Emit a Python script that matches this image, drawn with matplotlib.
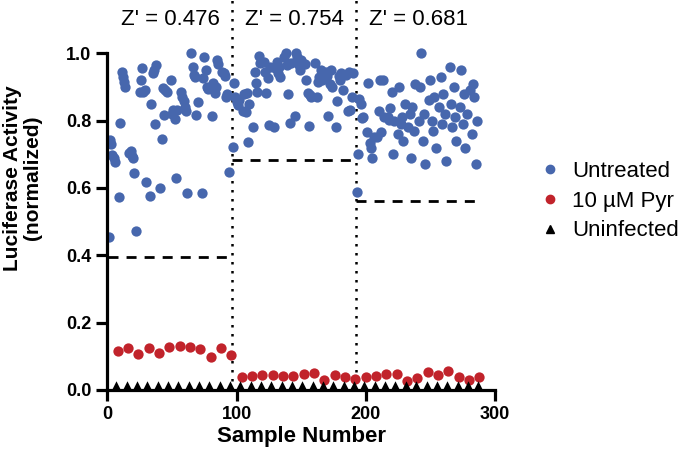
import numpy as np
import matplotlib
import matplotlib.pyplot as plt
from matplotlib.lines import Line2D

matplotlib.use("Agg")
plt.rcParams["font.family"] = ["Liberation Sans", "DejaVu Sans"]

# plate layout: 3 plates x 96 wells, numbered column-wise (8 wells per column)
# rows 1-6 untreated, row 7 uninfected, row 8 pyrimethamine
untreated_p1 = [
    0.455, 0.742, 0.73, 0.698, 0.69, 0.678,
    0.574, 0.794, 0.945, 0.93, 0.916, 0.90,
    0.705, 0.71, 0.695, 0.69, 0.643, 0.473,
    0.886, 0.919, 0.955, 0.886, 0.89, 0.619,
    0.577, 0.849, 0.94, 0.95, 0.79, 0.965,
    0.601, 0.745, 0.896, 0.817, 0.89, 0.885,
    0.919, 0.82, 0.832, 0.805, 0.629, 0.83,
    0.886, 0.87, 0.859, 0.84, 0.827, 0.584,
    1.0, 0.96, 0.935, 0.928, 0.817, 0.856,
    0.584, 0.926, 0.99, 0.95, 0.90, 0.893,
    0.814, 0.911, 0.883, 0.90, 0.98, 0.968,
    0.945, 0.94, 0.933, 0.871, 0.88, 0.648,
]
untreated_p2 = [
    0.723, 0.913, 0.87, 0.856, 0.846, 0.86,
    0.827, 0.879, 0.824, 0.883, 0.737, 0.85,
    0.782, 0.945, 0.913, 0.886, 0.992, 0.97,
    0.975, 0.945, 0.883, 0.926, 0.787, 0.96,
    0.78, 0.955, 0.975, 0.94, 0.96, 0.93,
    0.99, 1.0, 0.965, 0.879, 0.792, 0.97,
    0.814, 1.0, 0.99, 0.965, 0.95, 0.98,
    0.968, 0.919, 0.881, 0.784, 0.876, 0.87,
    0.972, 0.871, 0.916, 0.928, 0.95, 0.92,
    0.945, 0.933, 0.814, 0.91, 0.95, 0.90,
    0.78, 0.859, 0.933, 0.92, 0.94, 0.89,
    0.936, 0.827, 0.945, 0.832, 0.869, 0.942,
]
untreated_p3 = [
    0.589, 0.701, 0.863, 0.85, 0.807, 0.81,
    0.767, 0.911, 0.733, 0.718, 0.69, 0.75,
    0.752, 0.827, 0.919, 0.767, 0.92, 0.81,
    0.812, 0.802, 0.837, 0.886, 0.701, 0.80,
    0.76, 0.90, 0.79, 0.81, 0.74, 0.85,
    0.78, 0.82, 0.69, 0.84, 0.77, 0.91,
    0.80, 0.90, 1.0, 0.74, 0.82, 0.67,
    0.86, 0.92, 0.80, 0.77, 0.87, 0.72,
    0.84, 0.93, 0.79, 0.88, 0.82, 0.68,
    0.96, 0.85, 0.78, 0.90, 0.81, 0.74,
    0.84, 0.95, 0.79, 0.88, 0.72, 0.82,
    0.89, 0.76, 0.91, 0.87, 0.67, 0.80,
]
pyr = [
    0.117, 0.124, 0.107, 0.124, 0.111, 0.129, 0.131, 0.129, 0.121, 0.099, 0.124, 0.104,
    0.038, 0.042, 0.045, 0.045, 0.042, 0.042, 0.048, 0.050, 0.030, 0.045, 0.038, 0.032,
    0.038, 0.042, 0.048, 0.048, 0.028, 0.035, 0.052, 0.045, 0.055, 0.040, 0.030, 0.040,
]
uninfected = [
    0.008, 0.010, 0.009, 0.010, 0.008, 0.010, 0.009, 0.010, 0.008, 0.009, 0.010, 0.008,
    0.009, 0.010, 0.008, 0.010, 0.009, 0.010, 0.008, 0.010, 0.009, 0.008, 0.010, 0.009,
    0.010, 0.008, 0.009, 0.010, 0.008, 0.010, 0.009, 0.010, 0.008, 0.009, 0.010, 0.008,
]
thresholds = [0.396, 0.683, 0.561]
z_primes = ["0.476", "0.754", "0.681"]

BLUE = "#4767AD"
RED = "#C1232B"

samples = np.arange(1, 289)
row = (samples - 1) % 8
x_untreated = samples[row < 6]
x_uninf = samples[row == 6]
x_pyr = samples[row == 7]
y_untreated = np.array(untreated_p1 + untreated_p2 + untreated_p3)

fig = plt.figure(figsize=(6.88, 4.61), dpi=100)
ax = fig.add_axes([107.3 / 688, 1 - 390 / 461, 387.7 / 688, 390 / 461])

ax.scatter(x_untreated, y_untreated, s=55, color=BLUE, zorder=3, linewidths=0)
ax.scatter(x_pyr, pyr, s=55, color=RED, zorder=3, linewidths=0)
ax.scatter(x_uninf, uninfected, s=80, marker="^", color="black", zorder=3, linewidths=0)

for i in range(3):
    left, right = 96 * i + 0.5, 96 * (i + 1) + 0.5
    ax.plot([max(left, 0), right], [thresholds[i]] * 2, color="black", lw=2,
            linestyle=(0, (3.6, 2.9)), zorder=2)
    ax.text((left + right) / 2, 1.10, f"Z' = {z_primes[i]}", ha="center",
            va="center", fontsize=16)
    if i > 0:
        ax.plot([left, left], [0, 1.158], color="black", lw=1.8,
                linestyle=(0, (1, 2.6)), zorder=2)

ax.set_xlim(0, 300)
ax.set_ylim(0, 1.158)
ax.set_xticks([0, 100, 200, 300])
ax.set_yticks(np.arange(0, 1.01, 0.2))
ax.set_yticklabels([f"{v:.1f}" for v in np.arange(0, 1.01, 0.2)])
for s in ["top", "right"]:
    ax.spines[s].set_visible(False)
ax.spines["left"].set_bounds(0, 1)
for s in ["left", "bottom"]:
    ax.spines[s].set_linewidth(2.3)
    ax.spines[s].set_zorder(4)
ax.tick_params(width=2.3, length=8, labelsize=13)
for lab in ax.get_xticklabels() + ax.get_yticklabels():
    lab.set_fontweight("bold")

ax.set_xlabel("Sample Number", fontsize=16, fontweight="bold", labelpad=2)
fig.text(22.5 / 688, 1 - 178 / 461, "Luciferase Activity\n(normalized)",
         rotation=90, ha="center", va="center", fontsize=15, fontweight="bold",
         multialignment="center", linespacing=1.1)

handles = [
    Line2D([], [], marker="o", color=BLUE, ls="", markersize=6),
    Line2D([], [], marker="o", color=RED, ls="", markersize=6),
    Line2D([], [], marker="^", color="black", ls="", markersize=6),
]
fig.legend(handles, ["Untreated", "10 µM Pyr", "Uninfected"], loc="center left",
           bbox_to_anchor=(539 / 688, 1 - 201 / 461), frameon=False, fontsize=16,
           handlelength=1, handletextpad=0.5, labelspacing=0.4, borderpad=0,
           borderaxespad=0)

fig.savefig("out.png", dpi=100)
